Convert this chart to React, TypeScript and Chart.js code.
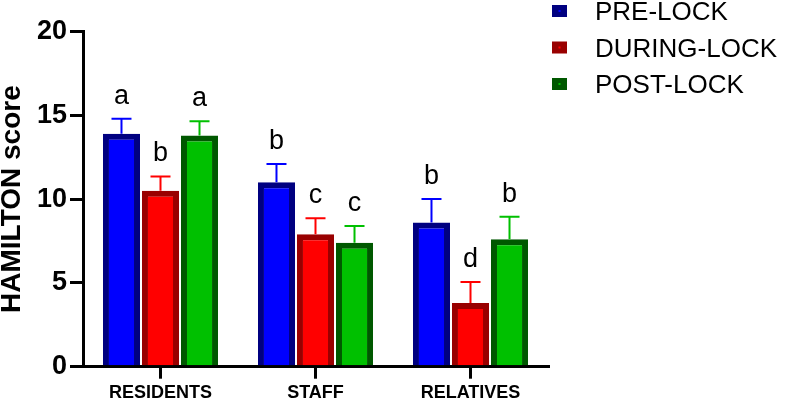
import React, { useEffect, useRef } from 'react';
import { Chart, registerables } from 'chart.js';

Chart.register(...registerables);

const categories = ['RESIDENTS', 'STAFF', 'RELATIVES'];
const seriesNames = ['PRE-LOCK', 'DURING-LOCK', 'POST-LOCK'];
const preLock = [13.9, 11.0, 8.6];
const duringLock = [10.5, 7.9, 3.8];
const postLock = [13.8, 7.4, 7.6];
const preLockSem = [0.9, 1.1, 1.4];
const duringLockSem = [0.85, 0.95, 1.25];
const postLockSem = [0.85, 1.0, 1.35];
const preLockLetters = ['a', 'b', 'b'];
const duringLockLetters = ['b', 'c', 'd'];
const postLockLetters = ['a', 'c', 'b'];
const yMin = 0;
const yMax = 20;
const yStep = 5;

const FONT = '"Liberation Sans", Arial, Helvetica, sans-serif';

const fills = ['#0000FF', '#FF0000', '#00C000'];
const borders = ['#000080', '#990000', '#005800'];

const errorLetterPlugin = {
  id: 'errorLetters',
  afterDatasetsDraw(chart: any) {
    const ctx = chart.ctx;
    const y = chart.scales.y;
    chart.data.datasets.forEach((ds: any, i: number) => {
      const meta = chart.getDatasetMeta(i);
      meta.data.forEach((el: any, j: number) => {
        const top = y.getPixelForValue(ds.data[j] + ds.sem[j]);
        ctx.save();
        ctx.strokeStyle = ds.errColor;
        ctx.lineWidth = 2;
        ctx.beginPath();
        ctx.moveTo(el.x, el.y);
        ctx.lineTo(el.x, top);
        ctx.moveTo(el.x - 10, top);
        ctx.lineTo(el.x + 10, top);
        ctx.stroke();
        ctx.fillStyle = '#000';
        ctx.font = '27px ' + FONT;
        ctx.textAlign = 'center';
        ctx.textBaseline = 'alphabetic';
        ctx.fillText(ds.letters[j], el.x, top - 15);
        ctx.restore();
      });
    });
  },
};

const legendPlugin = {
  id: 'customLegend',
  afterDraw(chart: any) {
    const ctx = chart.ctx;
    chart.data.datasets.forEach((ds: any, i: number) => {
      const base = 20 + i * 36.5;
      ctx.save();
      ctx.fillStyle = ds.borderColor;
      ctx.fillRect(552, base - 15, 15, 12);
      ctx.fillStyle = ds.backgroundColor;
      ctx.fillRect(558.5, base - 10, 2, 2);
      ctx.fillStyle = '#000';
      ctx.font = '26px ' + FONT;
      ctx.textAlign = 'left';
      ctx.textBaseline = 'alphabetic';
      ctx.fillText(ds.label, 595, base);
      ctx.restore();
    });
  },
};

export default function App() {
  const ref = useRef<HTMLCanvasElement>(null);

  useEffect(() => {
    document.body.style.margin = '0';
    const values = [preLock, duringLock, postLock];
    const sems = [preLockSem, duringLockSem, postLockSem];
    const letters = [preLockLetters, duringLockLetters, postLockLetters];
    const chart = new Chart(ref.current as HTMLCanvasElement, {
      type: 'bar',
      data: {
        labels: categories,
        datasets: seriesNames.map((name, i) => ({
          label: name,
          data: values[i],
          sem: sems[i],
          letters: letters[i],
          errColor: fills[i],
          backgroundColor: fills[i],
          borderColor: borders[i],
          borderWidth: 6,
          categoryPercentage: 0.755,
          barPercentage: 0.95,
        })) as any,
      },
      options: {
        animation: false,
        responsive: false,
        maintainAspectRatio: false,
        layout: { padding: { left: 0, top: 31.5, right: 239, bottom: 0 } },
        plugins: {
          legend: { display: false },
          tooltip: { enabled: false },
        },
        scales: {
          x: {
            afterFit: (s: any) => {
              s.height = 35.3;
            },
            grid: {
              offset: false,
              drawOnChartArea: false,
              drawTicks: true,
              tickLength: 12,
              color: '#000',
              lineWidth: 3,
            },
            border: { display: true, color: '#000', width: 3 },
            ticks: {
              color: '#000',
              padding: 4,
              font: { family: FONT, size: 18, weight: 'bold' },
              maxRotation: 0,
            },
          },
          y: {
            min: yMin,
            max: yMax,
            afterFit: (s: any) => {
              s.width = 83;
            },
            grid: {
              drawOnChartArea: false,
              drawTicks: true,
              tickLength: 13,
              color: '#000',
              lineWidth: 3,
            },
            border: { display: true, color: '#000', width: 3 },
            ticks: {
              stepSize: yStep,
              color: '#000',
              padding: 3,
              font: { family: FONT, size: 27, weight: 'bold' },
            },
            title: {
              display: true,
              text: 'HAMILTON score',
              color: '#000',
              padding: 0,
              font: { family: FONT, size: 28, weight: 'bold', lineHeight: 0.86 },
            },
          },
        },
      },
      plugins: [errorLetterPlugin, legendPlugin],
    });
    return () => chart.destroy();
  }, []);

  return (
    <div style={{ width: 787, height: 402 }}>
      <canvas ref={ref} width={787} height={402} style={{ display: 'block' }} />
    </div>
  );
}
